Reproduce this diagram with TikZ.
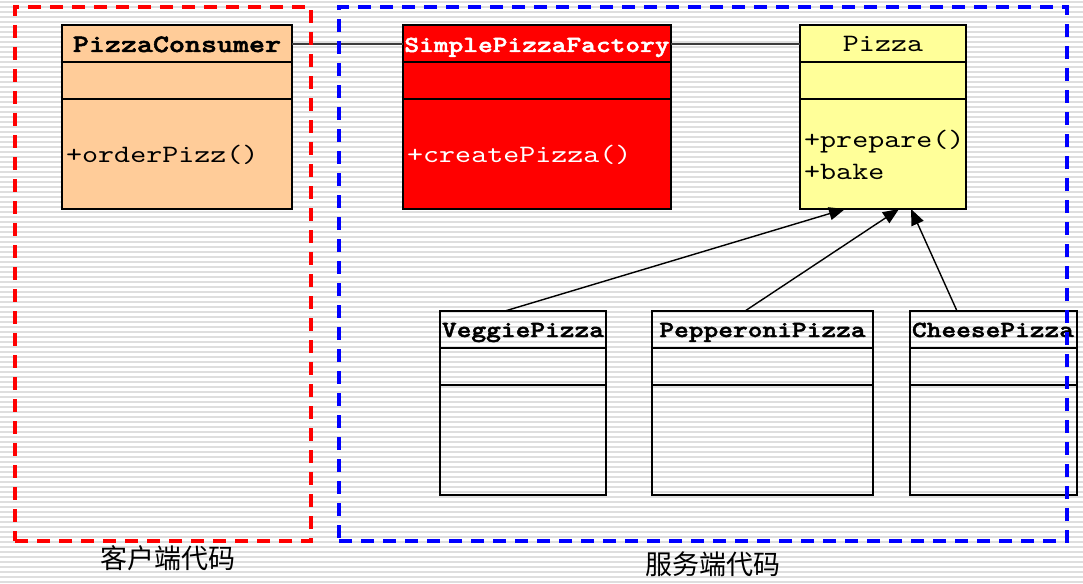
\documentclass[tikz,border=0pt]{standalone}
\usepackage{fontspec}
\newfontfamily\mono[Extension=.otf, UprightFont=lmmono10-regular, BoldFont=lmmonolt10-bold, BoldFeatures={FakeBold=2}, FakeStretch=1.22]{lmmono10-regular}
\newfontfamily\cjk{Noto Sans CJK SC}
\usetikzlibrary{arrows.meta}
\definecolor{peach}{RGB}{255,204,153}
\definecolor{lightyellow}{RGB}{255,255,153}
\definecolor{stripe}{RGB}{222,222,222}
\definecolor{linegray}{RGB}{60,60,60}
\begin{document}
\begin{tikzpicture}[x=1pt,y=-1pt,
  cls/.style={draw=black, line width=1.2pt, anchor=north west, minimum width=#1, minimum height=184pt, inner sep=0pt, outer sep=0pt},
  sep/.style={draw=black, line width=1.2pt},
  titlebig/.style={font=\mono\bfseries\fontsize{25pt}{30pt}\selectfont, inner sep=0pt, anchor=base},
  titlesmall/.style={font=\mono\bfseries\fontsize{23pt}{28pt}\selectfont, inner sep=0pt, anchor=base},
  titleplain/.style={font=\mono\fontsize{25pt}{30pt}\selectfont, inner sep=0pt, anchor=base},
  attr/.style={font=\mono\fontsize{25pt}{30pt}\selectfont, inner sep=0pt, anchor=base west},
  frame/.style={line width=3.5pt, dash pattern=on 13pt off 9pt, anchor=north west, inner sep=0pt, outer sep=0pt},
  assoc/.style={draw=linegray, line width=1.4pt},
  gen/.style={draw=black, line width=1.4pt, -{Triangle[length=16pt,width=13pt]}},
  label/.style={font=\cjk\fontsize{27pt}{30pt}\selectfont, inner sep=0pt}
]
\useasboundingbox (0,0) rectangle (1083,583);
\fill[white] (0,0) rectangle (1083,583);
\foreach \y in {2,7,...,583} \draw[stripe, line width=1.5pt] (0,\y) -- (1083,\y);

% PizzaConsumer
\node[cls=230pt, fill=peach] (pc) at (62,25) {};
\draw[sep] ([yshift=-37pt]pc.north west) -- ([yshift=-37pt]pc.north east);
\draw[sep] ([yshift=-74pt]pc.north west) -- ([yshift=-74pt]pc.north east);
\node[titlebig] (pcname) at (177,52) {PizzaConsumer};
\node[attr] (pcop) at (66,162) {+orderPizz()};

% SimplePizzaFactory
\node[cls=268pt, fill=red] (spf) at (403,25) {};
\draw[sep] ([yshift=-37pt]spf.north west) -- ([yshift=-37pt]spf.north east);
\draw[sep] ([yshift=-74pt]spf.north west) -- ([yshift=-74pt]spf.north east);
\node[titlesmall, text=white] (spfname) at (537,52) {SimplePizzaFactory};
\node[attr, text=white] (spfop) at (407,162) {+createPizza()};

% Pizza
\node[cls=166pt, fill=lightyellow] (pizza) at (800,25) {};
\draw[sep] ([yshift=-37pt]pizza.north west) -- ([yshift=-37pt]pizza.north east);
\draw[sep] ([yshift=-74pt]pizza.north west) -- ([yshift=-74pt]pizza.north east);
\node[titleplain] (pizzaname) at (883,52) {Pizza};
\node[attr] (pizzaop1) at (804,147) {+prepare()};
\node[attr] (pizzaop2) at (804,179) {+bake};

% VeggiePizza
\node[cls=166pt] (veg) at (440,311) {};
\draw[sep] ([yshift=-37pt]veg.north west) -- ([yshift=-37pt]veg.north east);
\draw[sep] ([yshift=-74pt]veg.north west) -- ([yshift=-74pt]veg.north east);
\node[titlesmall] (vegname) at (523,337) {VeggiePizza};

% PepperoniPizza
\node[cls=221pt] (pep) at (652,311) {};
\draw[sep] ([yshift=-37pt]pep.north west) -- ([yshift=-37pt]pep.north east);
\draw[sep] ([yshift=-74pt]pep.north west) -- ([yshift=-74pt]pep.north east);
\node[titlesmall] (pepname) at (762.5,337) {PepperoniPizza};

% CheesePizza
\node[cls=167pt] (che) at (910,311) {};
\draw[sep] ([yshift=-37pt]che.north west) -- ([yshift=-37pt]che.north east);
\draw[sep] ([yshift=-74pt]che.north west) -- ([yshift=-74pt]che.north east);
\node[titlesmall] (chename) at (993,337) {CheesePizza};

% associations
\draw[assoc] ([yshift=-19pt]pc.north east) -- ([yshift=-19pt]spf.north west);
\draw[assoc] ([yshift=-19pt]spf.north east) -- ([yshift=-19pt]pizza.north west);

% generalisations
\draw[gen] ([xshift=65pt]veg.north west) -- ([xshift=45pt]pizza.south west);
\draw[gen] ([xshift=93pt]pep.north west) -- ([xshift=99pt]pizza.south west);
\draw[gen] ([xshift=47pt]che.north west) -- ([xshift=111pt]pizza.south west);

% frames
\node[frame, draw=red, minimum width=296pt, minimum height=534pt] (client) at (15,7) {};
\node[frame, draw=blue, minimum width=728pt, minimum height=534pt] (server) at (339,7) {};

\node[label] (clientlabel) at (168,558) {客户端代码};
\node[label] (serverlabel) at (713,564) {服务端代码};
\end{tikzpicture}
\end{document}
